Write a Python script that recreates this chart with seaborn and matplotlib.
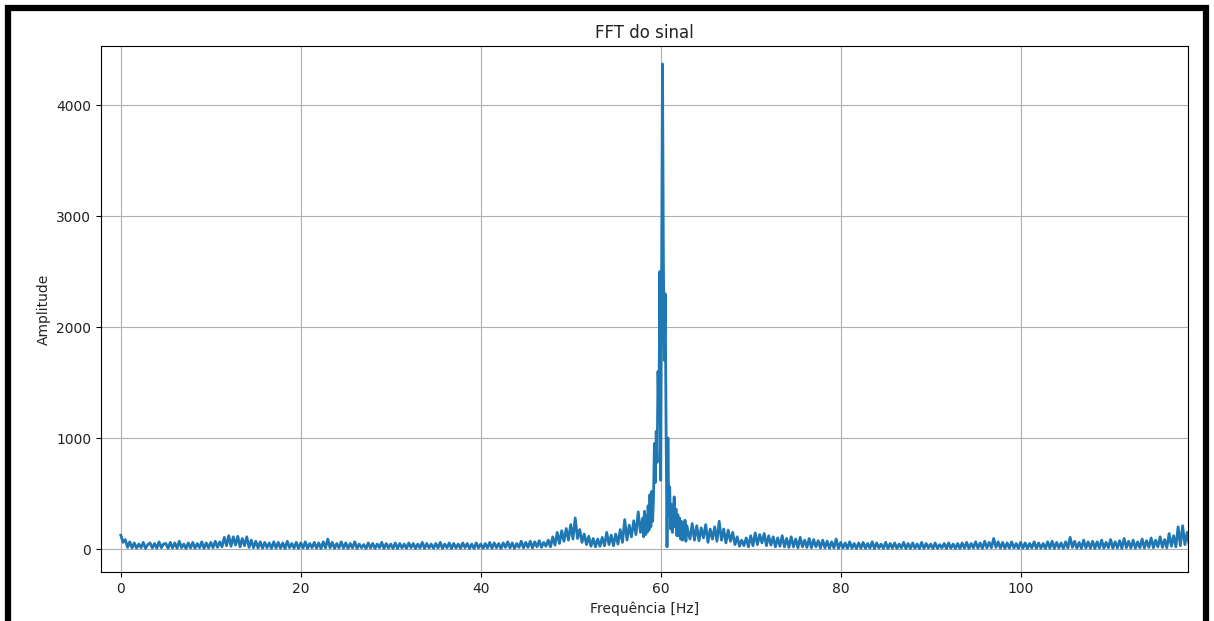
import numpy as np
import pandas as pd
import seaborn as sns
import matplotlib.pyplot as plt
from matplotlib.patches import Rectangle

# FFT amplitude (baseline 0.25 Hz step, peak 0.1 Hz step)
step_low = 0.25
start_low = 0.0
amp_low = [
    125, 60, 85, 15, 65, 10, 55, 8, 45, 12, 60, 6, 40, 55, 10, 50, 8, 65, 12, 45,
    50, 6, 60, 10, 55, 8, 70, 12, 45, 5, 55, 10, 60, 8, 50, 12, 65, 6, 55, 10,
    60, 12, 70, 15, 65, 20, 105, 30, 120, 25, 110, 35, 115, 20, 95, 30, 110, 15, 80, 12,
    70, 10, 65, 8, 60, 12, 55, 6, 65, 10, 60, 8, 55, 5, 70, 12, 50, 8, 60, 6,
    55, 10, 65, 6, 50, 12, 60, 8, 55, 5, 65, 10, 90, 12, 60, 6, 50, 10, 65, 8,
    55, 5, 50, 10, 65, 6, 45, 12, 40, 5, 55, 10, 50, 6, 45, 12, 60, 5, 50, 8,
    45, 6, 55, 5, 50, 10, 45, 6, 55, 12, 50, 5, 45, 10, 60, 6, 50, 10, 45, 6,
    50, 10, 60, 6, 45, 12, 55, 5, 50, 10, 45, 6, 55, 12, 50, 6, 45, 5, 55, 10,
    45, 6, 50, 10, 60, 6, 55, 12, 50, 5, 55, 15, 65, 10, 55, 6, 50, 15, 70, 10,
    60, 15, 70, 10, 65, 20, 75, 15, 60, 25, 80, 20, 110, 35, 150, 50, 165, 70, 185, 80,
    220, 90, 280, 95, 175, 60, 135, 40, 115, 25, 95, 20, 90, 25, 105, 30, 150, 40, 125, 30,
    135, 45, 175, 60, 265, 80, 215, 110, 255, 130, 335, 150,
]

step_peak = 0.1
start_peak = 58.0
amp_peak = [
    280, 110, 340, 130, 300, 150, 390, 170, 490, 200,
    520, 250, 460, 950, 600, 1060, 780, 1600, 1150, 2500,
    620, 2450, 4370, 2580, 1700, 2300, 1050, 20, 1000, 300,
    560, 180, 400, 150, 340, 470, 200, 360, 120, 310,
    120, 280, 90, 250, 80, 230, 100, 260, 70, 210,
]

step_high = 0.25
start_high = 63.0
amp_high = [
    170, 90, 230, 80, 210, 75, 190, 100, 220, 60, 180, 90, 200, 70, 250, 80, 180, 55, 170, 70,
    150, 40, 110, 25, 80, 30, 100, 20, 120, 30, 145, 40, 130, 55, 140, 30, 120, 35, 110, 20,
    100, 25, 120, 20, 95, 15, 110, 20, 90, 12, 105, 20, 80, 15, 95, 12, 85, 20, 75, 10,
    80, 12, 70, 8, 65, 10, 90, 6, 60, 10, 55, 6, 65, 8, 50, 5, 55, 8, 60, 6,
    50, 8, 65, 5, 55, 10, 45, 6, 60, 5, 50, 8, 55, 6, 45, 10, 60, 5, 50, 6,
    55, 8, 45, 5, 60, 6, 50, 10, 45, 5, 55, 6, 40, 10, 50, 5, 55, 8, 45, 6,
    50, 5, 55, 8, 60, 6, 50, 10, 65, 8, 55, 6, 70, 10, 60, 12, 95, 15, 65, 8,
    60, 6, 55, 8, 65, 10, 50, 6, 60, 8, 55, 5, 50, 10, 65, 6, 55, 8, 50, 6,
    65, 8, 70, 6, 60, 10, 55, 5, 65, 10, 105, 15, 70, 8, 60, 6, 80, 10, 65, 8,
    70, 6, 65, 10, 80, 8, 60, 12, 85, 8, 65, 10, 75, 6, 95, 12, 70, 10, 80, 8,
    65, 12, 90, 10, 75, 15, 100, 12, 80, 20, 110, 15, 85, 12, 140, 25, 120, 20, 200, 30,
    210, 40, 150, 30,
]

freq = np.concatenate([
    start_low + step_low * np.arange(len(amp_low)),
    start_peak + step_peak * np.arange(len(amp_peak)),
    start_high + step_high * np.arange(len(amp_high)),
])
amp = np.concatenate([amp_low, amp_peak, amp_high])
df = pd.DataFrame({"freq": freq, "amp": amp})

fig = plt.figure(figsize=(12.14, 6.21), dpi=100)
ax = fig.add_axes([0.0832, 0.0789, 0.8954, 0.847])

sns.lineplot(data=df, x="freq", y="amp", ax=ax, color="#1f77b4",
             linewidth=2.0, estimator=None, sort=True)

ax.set_xlim(-2.2, 118.6)
ax.set_ylim(-207, 4532)
ax.set_xticks([0, 20, 40, 60, 80, 100])
ax.set_yticks([0, 1000, 2000, 3000, 4000])
ax.grid(True, color="#b0b0b0", linewidth=0.8)
ax.set_axisbelow(True)
ax.set_title("FFT do sinal", fontsize=12, color="#222222")
ax.set_xlabel("Frequência [Hz]", fontsize=10, color="#222222")
ax.set_ylabel("Amplitude", fontsize=10, color="#222222")
ax.tick_params(labelsize=10, labelcolor="#222222")

# black frame of the document screenshot
fig.patches.append(Rectangle((7.5 / 1214, -0.05), (1206 - 7.5) / 1214, 1.05 - 8 / 621,
                             transform=fig.transFigure, fill=False,
                             edgecolor="black", linewidth=4.5, clip_on=False))

fig.savefig("out.png", dpi=100)
